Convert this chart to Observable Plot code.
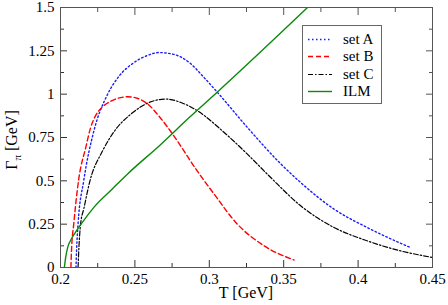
<!DOCTYPE html>
<html>
<head>
<meta charset="utf-8">
<script src="https://cdn.jsdelivr.net/npm/d3@7"></script>
<script src="https://cdn.jsdelivr.net/npm/@observablehq/plot@0.6"></script>
<style>
  html, body { margin: 0; padding: 0; background: #fff; }
  #chart { width: 448px; height: 305px; }
</style>
</head>
<body>
<div id="chart"></div>
<script>
// ---- data ----
const setA_T = [0.2104, 0.2108, 0.2118, 0.2156, 0.2225, 0.2317, 0.239, 0.249, 0.258, 0.266, 0.275, 0.2876, 0.2955, 0.3055, 0.3256, 0.348, 0.3614, 0.3838, 0.406, 0.4352];
const setA_G = [0, 0.1, 0.25, 0.5, 0.79, 1.0, 1.1, 1.18, 1.222, 1.24, 1.232, 1.175, 1.105, 1.01, 0.808, 0.598, 0.49, 0.337, 0.231, 0.115];

const setB_T = [0.207, 0.2074, 0.2089, 0.2121, 0.2172, 0.22, 0.2235, 0.228, 0.2335, 0.2453, 0.252, 0.2585, 0.2665, 0.2753, 0.2835, 0.2887, 0.3032, 0.3189, 0.3368, 0.357];
const setB_G = [0, 0.1, 0.25, 0.5, 0.7, 0.8, 0.875, 0.925, 0.958, 0.985, 0.975, 0.944, 0.87, 0.77, 0.665, 0.597, 0.424, 0.25, 0.125, 0.043];

const setC_T = [0.2118, 0.2124, 0.2135, 0.2157, 0.2198, 0.2283, 0.2361, 0.2473, 0.2585, 0.2708, 0.2809, 0.292, 0.31, 0.3256, 0.3413, 0.3614, 0.3838, 0.406, 0.4285, 0.45];
const setC_G = [0, 0.12, 0.25, 0.34, 0.5, 0.673, 0.785, 0.885, 0.948, 0.972, 0.952, 0.904, 0.779, 0.654, 0.519, 0.356, 0.231, 0.154, 0.096, 0.058];

const ilm_T = [0.2026, 0.2035, 0.2048, 0.207, 0.2093, 0.2138, 0.2227, 0.235, 0.2451, 0.2674, 0.2865, 0.3064, 0.3424, 0.366];
const ilm_G = [0, 0.06, 0.115, 0.16, 0.193, 0.25, 0.35, 0.455, 0.54, 0.71, 0.865, 1.02, 1.308, 1.5];

const seriesNames = ["set A", "set B", "set C", "ILM"];

const xTicks = [0.2, 0.25, 0.3, 0.35, 0.4, 0.45];
const xTickLabels = ["0.2", "0.25", "0.3", "0.35", "0.4", "0.45"];
const xMinor = [0.225, 0.275, 0.325, 0.375, 0.425];
const yTicks = [0, 0.25, 0.5, 0.75, 1, 1.25, 1.5];
const yTickLabels = ["0", "0.25", "0.5", "0.75", "1", "1.25", "1.5"];
const yMinor = [0.125, 0.375, 0.625, 0.875, 1.125, 1.375];

const xLabel = "T [GeV]";
const yLabelMain = "Γ";
const yLabelSub = "π";
const yLabelUnit = " [GeV]";

// ---- build tables ----
const zipT = (T, G) => T.map((t, i) => ({T: t, G: G[i]}));
const A = zipT(setA_T, setA_G);
const B = zipT(setB_T, setB_G);
const C = zipT(setC_T, setC_G);
const I = zipT(ilm_T, ilm_G);

const styles = [
  {stroke: "#1a1aff", dash: "1.5,2.5", width: 1.4},
  {stroke: "#ff0000", dash: "5,3", width: 1.4},
  {stroke: "#000000", dash: "5,2,1.5,2", width: 1.2},
  {stroke: "#0a8a0a", dash: null, width: 1.4}
];
const tables = [A, B, C, I];

const FONT = "'Liberation Serif', 'Times New Roman', serif";

const lineMarks = tables.map((tbl, i) => Plot.line(tbl, {
  x: "T", y: "G",
  stroke: styles[i].stroke,
  strokeWidth: styles[i].width,
  strokeDasharray: styles[i].dash || undefined,
  curve: "monotone-x",
  clip: true
}));

const plot = Plot.plot({
  width: 448,
  height: 305,
  marginLeft: 60,
  marginRight: 16,
  marginTop: 7,
  marginBottom: 38,
  x: {domain: [0.2, 0.45]},
  y: {domain: [0, 1.5]},
  style: {fontFamily: FONT, fontSize: "15px", color: "#000", background: "#fff", overflow: "visible"},
  marks: [
    ...lineMarks,
    // bottom axis with labels
    Plot.axisX({anchor: "bottom", ticks: xTicks, tickSize: -7, tickPadding: 13, tickFormat: (d, i) => xTickLabels[i], label: null, stroke: "#333"}),
    Plot.axisX({anchor: "bottom", ticks: xMinor, tickSize: -4, tickFormat: () => "", label: null, stroke: "#333"}),
    // top axis ticks
    Plot.axisX({anchor: "top", ticks: xTicks, tickSize: -7, tickFormat: () => "", label: null, stroke: "#555"}),
    Plot.axisX({anchor: "top", ticks: xMinor, tickSize: -4, tickFormat: () => "", label: null, stroke: "#555"}),
    // left axis with labels
    Plot.axisY({anchor: "left", ticks: yTicks, tickSize: -7, tickPadding: 13, tickFormat: (d, i) => yTickLabels[i], label: null, stroke: "#333"}),
    Plot.axisY({anchor: "left", ticks: yMinor, tickSize: -4, tickFormat: () => "", label: null, stroke: "#333"}),
    // right axis ticks
    Plot.axisY({anchor: "right", ticks: yTicks, tickSize: -7, tickFormat: () => "", label: null, stroke: "#555"}),
    Plot.axisY({anchor: "right", ticks: yMinor, tickSize: -4, tickFormat: () => "", label: null, stroke: "#555"}),
    Plot.frame({stroke: "#555", strokeWidth: 1})
  ]
});

document.getElementById("chart").appendChild(plot);

// ---- labels and legend added to the same SVG ----
const svg = d3.select(plot);

svg.append("text")
  .attr("x", 246)
  .attr("y", 298)
  .attr("text-anchor", "middle")
  .attr("font-family", FONT)
  .attr("font-size", 16)
  .attr("fill", "#000")
  .text(xLabel);

const yl = svg.append("text")
  .attr("transform", "translate(17,140) rotate(-90)")
  .attr("text-anchor", "middle")
  .attr("font-family", FONT)
  .attr("font-size", 16)
  .attr("fill", "#000");
yl.append("tspan").text(yLabelMain);
yl.append("tspan").attr("font-size", 11).attr("dy", 4).text(yLabelSub);
yl.append("tspan").attr("dy", -4).text(yLabelUnit);

// legend
const lg = svg.append("g");
lg.append("rect")
  .attr("x", 302.5).attr("y", 25.5)
  .attr("width", 79).attr("height", 78)
  .attr("fill", "#fff")
  .attr("stroke", "#666")
  .attr("stroke-width", 1);
const rowY = [39, 56, 74, 91];
seriesNames.forEach((name, i) => {
  lg.append("line")
    .attr("x1", 308).attr("x2", 332)
    .attr("y1", rowY[i] + 0.5).attr("y2", rowY[i] + 0.5)
    .attr("stroke", styles[i].stroke)
    .attr("stroke-width", styles[i].width)
    .attr("stroke-dasharray", styles[i].dash);
  lg.append("text")
    .attr("x", 343).attr("y", rowY[i] + 5)
    .attr("text-anchor", "start")
    .attr("font-family", FONT)
    .attr("font-size", 15)
    .attr("fill", "#000")
    .text(name);
});
</script>
</body>
</html>
